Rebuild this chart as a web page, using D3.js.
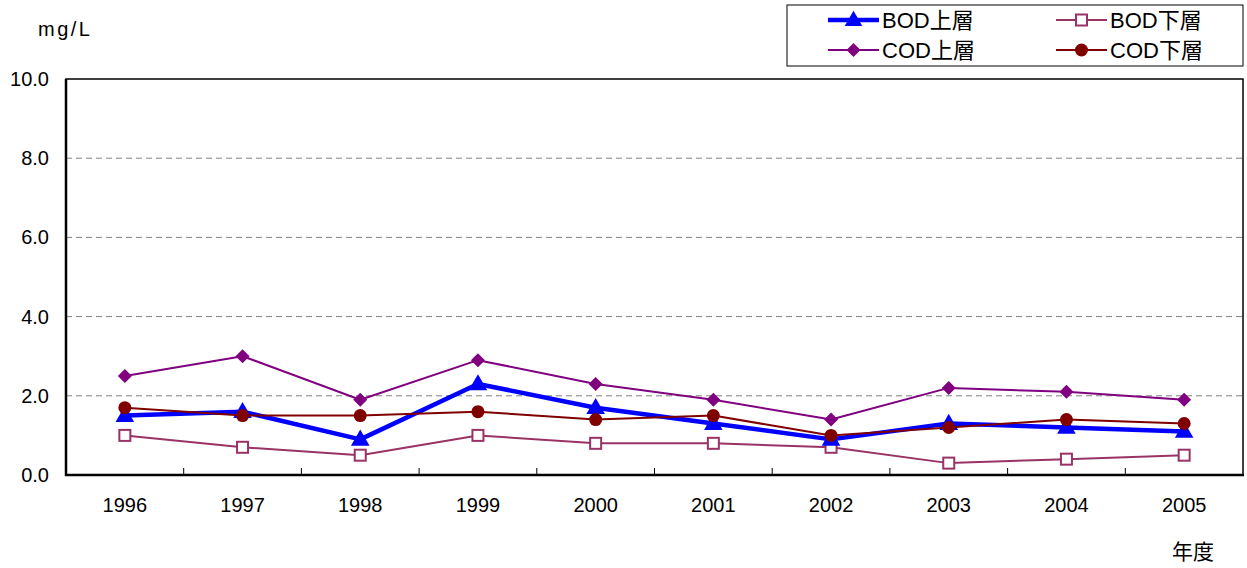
<!DOCTYPE html>
<html><head><meta charset="utf-8">
<script src="https://cdn.jsdelivr.net/npm/d3@7"></script>
<style>body{margin:0;background:#fff}svg{display:block;font-family:"Liberation Sans",Arial,"Noto Sans CJK JP",sans-serif}</style>
</head><body><svg id="c" width="1247" height="568"></svg>
<script>
const years = ["1996","1997","1998","1999","2000","2001","2002","2003","2004","2005"];
const bodUpper = [1.5,1.6,0.9,2.3,1.7,1.3,0.9,1.3,1.2,1.1];
const bodLower = [1.0,0.7,0.5,1.0,0.8,0.8,0.7,0.3,0.4,0.5];
const codUpper = [2.5,3.0,1.9,2.9,2.3,1.9,1.4,2.2,2.1,1.9];
const codLower = [1.7,1.5,1.5,1.6,1.4,1.5,1.0,1.2,1.4,1.3];
const yTicks = [0,2,4,6,8,10];

const series = [
  {name:"BOD上層", values:bodUpper, color:"#0000FF", width:4.5, marker:"triangle"},
  {name:"BOD下層", values:bodLower, color:"#993366", width:2, marker:"square"},
  {name:"COD上層", values:codUpper, color:"#800080", width:2, marker:"diamond"},
  {name:"COD下層", values:codLower, color:"#800000", width:2, marker:"circle"}
];
const drawOrder = [1,2,0,3];

const svg = d3.select("#c");
const L=66, R=1243, T=79, B=475;
const x = d3.scaleBand().domain(years).range([L,R]);
const y = d3.scaleLinear().domain([0,10]).range([B,T]);

// gridlines
svg.append("g").selectAll("line").data(yTicks.filter(d=>d>0&&d<10)).join("line")
  .attr("x1",L).attr("x2",R).attr("y1",d=>y(d)).attr("y2",d=>y(d))
  .attr("stroke","#808080").attr("stroke-width",1).attr("stroke-dasharray","6,4");

// frame
svg.append("rect").attr("x",L).attr("y",T).attr("width",R-L).attr("height",B-T)
  .attr("fill","none").attr("stroke","#000").attr("stroke-width",1.5);
svg.append("line").attr("x1",L).attr("x2",L).attr("y1",T).attr("y2",B+1).attr("stroke","#000").attr("stroke-width",2.5);
svg.append("line").attr("x1",L-1).attr("x2",R+1).attr("y1",B).attr("y2",B).attr("stroke","#000").attr("stroke-width",2.5);

// x ticks inward between categories
const bounds = years.slice(1).map(d=>x(d));
svg.append("g").selectAll("line").data(bounds).join("line")
  .attr("x1",d=>d).attr("x2",d=>d).attr("y1",B).attr("y2",B-7).attr("stroke","#000").attr("stroke-width",1);

// y labels
svg.append("g").selectAll("text").data(yTicks).join("text")
  .attr("x",49).attr("y",d=>y(d)+7).attr("text-anchor","end")
  .attr("font-size",20).attr("fill","#000").text(d=>d.toFixed(1));
// x labels
svg.append("g").selectAll("text").data(years).join("text")
  .attr("x",d=>x(d)+x.bandwidth()/2).attr("y",512).attr("text-anchor","middle")
  .attr("font-size",20).attr("fill","#000").text(d=>d);
svg.append("text").attr("x",38).attr("y",36).attr("font-size",20).attr("letter-spacing",2.5).text("mg/L");
svg.append("text").attr("x",1172).attr("y",559).attr("font-size",21).attr("font-family","'Noto Sans CJK JP',sans-serif").text("年度");

function marker(g, type, color, cx, cy, scale){
  const s = scale||1;
  if(type==="triangle"){
    g.append("path").attr("d",d3.symbol(d3.symbolTriangle, 150*s)()).attr("transform",`translate(${cx},${cy+1})`).attr("fill",color);
  } else if(type==="square"){
    g.append("rect").attr("x",cx-5.5).attr("y",cy-5.5).attr("width",11).attr("height",11).attr("fill","#fff").attr("stroke",color).attr("stroke-width",2);
  } else if(type==="diamond"){
    g.append("path").attr("d",`M${cx},${cy-7}L${cx+7},${cy}L${cx},${cy+7}L${cx-7},${cy}Z`).attr("fill",color);
  } else {
    g.append("circle").attr("cx",cx).attr("cy",cy).attr("r",6.5).attr("fill",color);
  }
}

const line = d3.line().x((d,i)=>x(years[i])+x.bandwidth()/2).y(d=>y(d));
drawOrder.forEach(k=>{
  const s = series[k];
  const g = svg.append("g");
  g.append("path").attr("d",line(s.values)).attr("fill","none").attr("stroke",s.color).attr("stroke-width",s.width).attr("stroke-linejoin","round");
  s.values.forEach((v,i)=>marker(g,s.marker,s.color,x(years[i])+x.bandwidth()/2,y(v)));
});

// legend
const lg = svg.append("g");
lg.append("rect").attr("x",787).attr("y",5).attr("width",456).attr("height",61).attr("fill","#fff").attr("stroke","#000").attr("stroke-width",1);
const pos = [[828,20],[1056,20],[828,50],[1056,50]];
series.forEach((s,i)=>{
  const [lx,ly] = pos[i];
  lg.append("line").attr("x1",lx).attr("x2",lx+51).attr("y1",ly).attr("y2",ly).attr("stroke",s.color).attr("stroke-width",s.width);
  marker(lg,s.marker,s.color,lx+25.5,ly,0.9);
  lg.append("text").attr("x",lx+54).attr("y",ly+8).attr("font-size",22).attr("fill","#000").text(s.name);
});
</script></body></html>
